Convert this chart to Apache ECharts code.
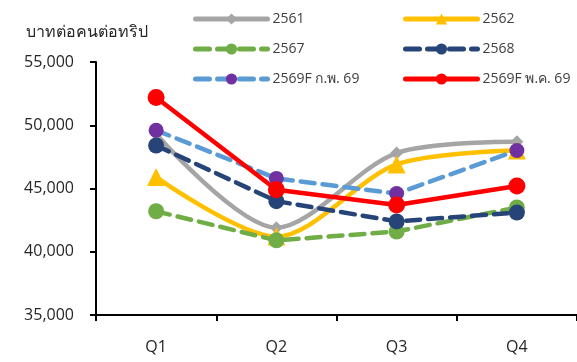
<!DOCTYPE html>
<html><head><meta charset="utf-8">
<script src="https://cdn.jsdelivr.net/npm/echarts@6/dist/echarts.min.js"></script>
<style>html,body{margin:0;padding:0;background:#fff}#c{width:577px;height:362px}</style>
</head><body><div id="c"></div>
<script>
const categories = ['Q1','Q2','Q3','Q4'];
const s2561 = [49300, 41900, 47800, 48700];
const s2562 = [45900, 41200, 46900, 48000];
const s2567 = [43200, 40900, 41600, 43500];
const s2568 = [48400, 44000, 42400, 43100];
const s2569feb = [49600, 45800, 44600, 48000];
const s2569may = [52200, 44900, 43700, 45200];
const yTicks = {min: 35000, max: 55000, interval: 5000};
const FONT = 'Tahoma, "Open Sans", "Noto Sans", sans-serif';

const chart = echarts.init(document.getElementById('c'), null, {renderer:'canvas'});
const dash = [14, 8];
function ser(name, data, color, lineType, symbol, size, markColor, smooth){
  return {
    name, type:'line', data, smooth: smooth ? 0.3 : false,
    symbol, symbolSize: size,
    lineStyle:{color, width:4.5, type: lineType, cap:'round'},
    itemStyle:{color: markColor || color},
    emphasis:{disabled:true}
  };
}
const legendCommon = {orient:'vertical', top:7, padding:5, itemWidth:72, itemHeight:14, itemGap:16,
  lineStyle:{width:5},
  textStyle:{fontSize:14, color:'#404040', fontFamily:FONT}};
chart.setOption({
  animation:false,
  textStyle:{fontFamily:FONT},
  grid:{left:96, top:62, width:484, bottom:47, containLabel:false},
  legend:[
    Object.assign({data:['2561','2567','2569F ก.พ. 69'], left:188}, legendCommon),
    Object.assign({data:['2562','2568','2569F พ.ค. 69'], left:398}, legendCommon)
  ],
  xAxis:{type:'category', data:categories, boundaryGap:true,
    axisLine:{lineStyle:{color:'#000', width:2}},
    axisTick:{show:true, length:6, lineStyle:{color:'#000', width:2}},
    axisLabel:{fontSize:16, color:'#262626', margin:24, fontFamily:FONT}},
  yAxis:{type:'value', min:yTicks.min, max:yTicks.max, interval:yTicks.interval,
    name:'บาทต่อคนต่อทริป', nameLocation:'end', nameGap:22,
    nameTextStyle:{fontSize:16, color:'#262626', align:'left', padding:[0,0,0,-70], fontFamily:FONT},
    splitLine:{show:false},
    axisLine:{show:true, lineStyle:{color:'#000', width:2}},
    axisTick:{show:true, length:6, lineStyle:{color:'#000', width:2}},
    axisLabel:{fontSize:16, color:'#262626', margin:22, fontFamily:FONT,
      formatter:v=>v.toLocaleString('en-US')}},
  series:[
    ser('2561', s2561, '#A5A5A5', 'solid', 'diamond', 13, null, true),
    ser('2562', s2562, '#FFC000', 'solid', 'triangle', 18, null, true),
    ser('2567', s2567, '#70AD47', dash, 'circle', 16, null, false),
    ser('2568', s2568, '#264478', dash, 'circle', 16, null, false),
    ser('2569F ก.พ. 69', s2569feb, '#5B9BD5', dash, 'circle', 15, '#7030A0', false),
    ser('2569F พ.ค. 69', s2569may, '#FF0000', 'solid', 'circle', 17, null, false)
  ]
});
</script></body></html>
